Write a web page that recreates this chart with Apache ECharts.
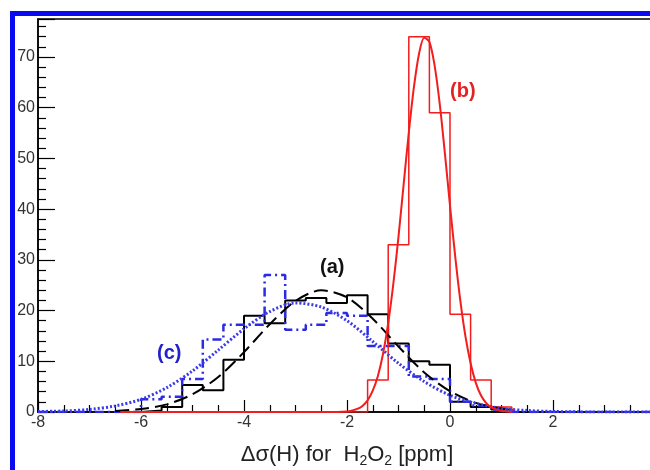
<!DOCTYPE html>
<html lang="en">
<head>
    <meta charset="UTF-8">
    <title>H2O2 shielding histograms</title>
    <script src="https://cdn.jsdelivr.net/npm/echarts@6/dist/echarts.min.js"></script>
    <style>
        html, body {margin: 0; padding: 0; background: #fff;}
        #chart {width: 650px; height: 470px;}
    </style>
</head>
<body>
<div id="chart"></div>

<script>
    // lower bin edges (ppm), last bin ends at 4.0
    var binEdges = [-8.0, -7.6, -7.2, -6.8, -6.4, -6.0, -5.6, -5.2, -4.8, -4.4,
        -4.0, -3.6, -3.2, -2.8, -2.4, -2.0, -1.6, -1.2, -0.8, -0.4,
        0.0, 0.4, 0.8, 1.2, 1.6, 2.0, 2.4, 2.8, 3.2, 3.6];
    var lastEdge = 4.0;

    // (a) black histogram
    var countsA = [0, 0, 0, 0, 0, 0.3, 1.0, 5.3, 4.3, 10.3,
        19, 17.5, 22, 22.5, 21.5, 23, 19.3, 13.5, 10, 9.3,
        2, 1, 0.5, 0, 0, 0, 0, 0, 0, 0];
    // (b) red histogram
    var countsB = [0, 0, 0, 0, 0, 0, 0, 0, 0, 0,
        0, 0, 0, 0, 0, 0, 6.3, 33, 74, 59,
        19.3, 6.3, 1, 0, 0, 0, 0, 0, 0, 0];
    // (c) blue histogram
    var countsC = [0, 0, 0, 0, 0, 2.5, 3, 6.5, 14.3, 17.2,
        17.2, 27, 16.2, 17.2, 19.5, 19, 13, 13, 7, 6.5,
        2, 1.3, 0.5, 0, 0, 0, 0, 0, 0, 0];

    // fitted curves
    var fitAx = [-6.5, -6.0, -5.5, -5.0, -4.5, -4.0, -3.5, -3.0, -2.5, -2.0, -1.5, -1.0, -0.5, 0.0, 0.5, 1.0, 1.2];
    var fitAy = [0.2, 0.6, 1.5, 3.5, 6.9, 11.8, 17.3, 21.9, 24.0, 22.6, 18.4, 12.9, 7.8, 4.1, 1.8, 0.7, 0.5];

    var fitBx = [-6.4, -2.4, -2.0, -1.9, -1.8, -1.7, -1.6, -1.5, -1.4, -1.3, -1.2, -1.1, -1.0, -0.9, -0.8, -0.7, -0.6, -0.5,
        -0.4, -0.3, -0.2, -0.1, 0.0, 0.1, 0.2, 0.3, 0.4, 0.5, 0.6, 0.7, 0.8, 0.9, 1.0, 1.1, 1.2];
    var fitBy = [0, 0, 0.1, 0.3, 0.6, 1.2, 2.3, 4.2, 7.1, 11.5, 17.5, 25.3, 34.6, 44.9, 55.1, 64.1, 70.7, 73.8,
        73.0, 68.4, 60.8, 51.1, 40.7, 30.8, 22.0, 14.9, 9.6, 5.8, 3.3, 1.8, 0.9, 0.5, 0.2, 0.1, 0];

    var fitCx = [-8.0, -7.5, -7.0, -6.5, -6.0, -5.5, -5.0, -4.5, -4.0, -3.5, -3.0, -2.5, -2.0, -1.5, -1.0, -0.5, 0.0, 0.5, 1.0, 1.5, 2.0, 3.0, 4.0];
    var fitCy = [0.1, 0.2, 0.5, 1.2, 2.5, 4.8, 8.1, 12.2, 16.4, 19.8, 21.5, 20.7, 18.0, 13.9, 9.6, 6.0, 3.3, 1.7, 0.7, 0.3, 0.1, 0, 0];

    var font = "'Liberation Sans', Arial, sans-serif";

    function histSteps(counts, from, to) {
        var pts = [];
        for (var i = 0; i < binEdges.length; i++) {
            if (binEdges[i] >= from - 1e-9 && binEdges[i] < to - 1e-9) {
                pts.push([binEdges[i], counts[i]]);
            }
        }
        pts.push([to, 0]);
        return pts;
    }

    function pairs(xs, ys) {
        return xs.map(function (x, i) { return [x, ys[i]]; });
    }

    var chart = echarts.init(document.getElementById('chart'));

    var option = {
        backgroundColor: '#fff',
        animation: false,
        grid: {
            left: 38, top: 19, width: 618, height: 393,
            outerBoundsMode: 'none', containLabel: false,
            show: true, borderColor: '#000', borderWidth: 1.5, backgroundColor: 'transparent'
        },
        xAxis: {
            type: 'value', min: -8, max: 4, interval: 2,
            name: '{n|Δσ(H) for  H}{s|2}{n|O}{s|2}{n| [ppm]}',
            nameLocation: 'middle', nameGap: 30,
            nameTextStyle: {
                rich: {
                    n: {fontFamily: font, fontSize: 22, color: '#222'},
                    s: {fontFamily: font, fontSize: 14, color: '#222', padding: [12, 0, 0, 0]}
                }
            },
            axisLine: {onZero: false, lineStyle: {color: '#000', width: 1.5}},
            axisTick: {inside: true, length: 12, lineStyle: {color: '#000', width: 1.2}},
            minorTick: {show: true, splitNumber: 4, length: 7, lineStyle: {color: '#000', width: 1.2}},
            axisLabel: {fontFamily: font, fontSize: 16, color: '#333', margin: 3},
            splitLine: {show: false}
        },
        yAxis: {
            type: 'value', min: 0, max: 77.5, interval: 10,
            axisLine: {show: true, onZero: false, lineStyle: {color: '#000', width: 1.5}},
            axisTick: {show: true, inside: true, length: 17, lineStyle: {color: '#000', width: 1.2}},
            minorTick: {show: true, splitNumber: 5, length: 8, lineStyle: {color: '#000', width: 1.2}},
            axisLabel: {fontFamily: font, fontSize: 16, color: '#333', margin: 3, showMaxLabel: false},
            splitLine: {show: false}
        },
        series: [
            {
                name: 'hist a', type: 'line', step: 'end', symbol: 'none',
                data: histSteps(countsA, -6.4, 1.6),
                lineStyle: {color: '#000', width: 2}
            },
            {
                name: 'hist c', type: 'line', step: 'end', symbol: 'none',
                data: histSteps(countsC, -8.0, lastEdge),
                lineStyle: {color: '#2b2be6', width: 2.5, type: [9, 4, 2, 4]}
            },
            {
                name: 'hist b', type: 'line', step: 'end', symbol: 'none',
                data: histSteps(countsB, -6.4, 1.2),
                lineStyle: {color: '#f21d1d', width: 1.5}
            },
            {
                name: 'fit a', type: 'line', smooth: 0.3, symbol: 'none',
                data: pairs(fitAx, fitAy),
                lineStyle: {color: '#000', width: 2, type: [14, 6]}
            },
            {
                name: 'fit c', type: 'line', smooth: 0.3, symbol: 'none',
                data: pairs(fitCx, fitCy),
                lineStyle: {color: '#3a3ae8', width: 3, type: [2, 2]}
            },
            {
                name: 'fit b', type: 'line', smooth: 0.3, symbol: 'none',
                data: pairs(fitBx, fitBy),
                lineStyle: {color: '#f21d1d', width: 2}
            }
        ],
        graphic: [
            {
                type: 'rect', silent: true, z: -1,
                shape: {x: 12.5, y: 13.5, width: 700, height: 520},
                style: {fill: 'none', stroke: '#0a0af0', lineWidth: 5}
            },
            {
                type: 'text', left: 320, top: 257,
                style: {text: '(a)', fill: '#111', font: 'bold 20px ' + font}
            },
            {
                type: 'text', left: 450, top: 81,
                style: {text: '(b)', fill: '#e52222', font: 'bold 20px ' + font}
            },
            {
                type: 'text', left: 157, top: 343,
                style: {text: '(c)', fill: '#2222cc', font: 'bold 20px ' + font}
            }
        ]
    };

    chart.setOption(option);
</script>
</body>
</html>
